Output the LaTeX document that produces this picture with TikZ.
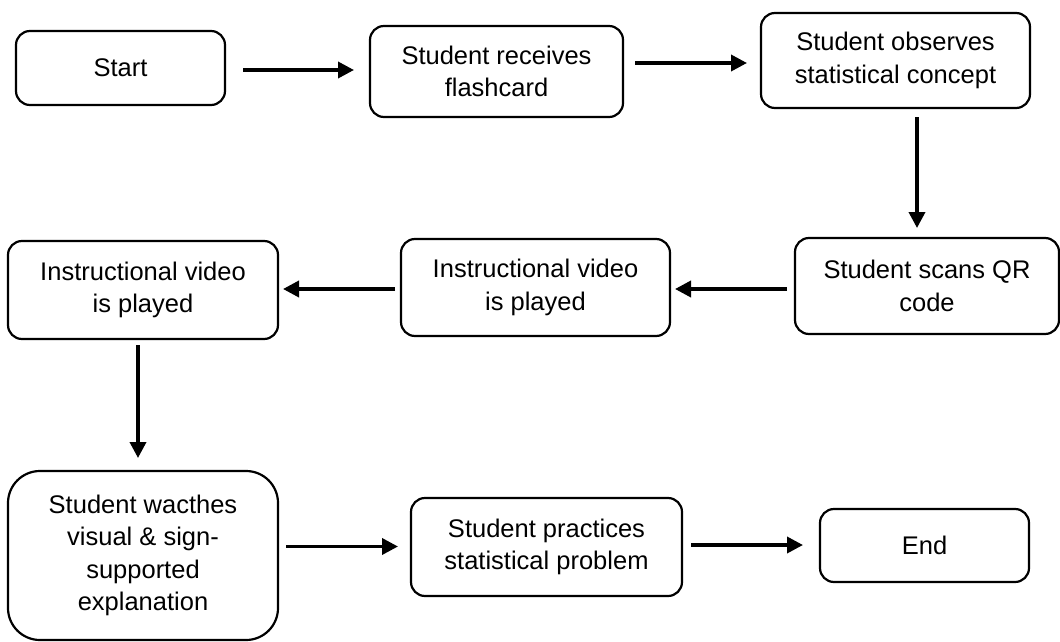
\documentclass[tikz,border=0pt]{standalone}
\usepackage{fontspec}
\setmainfont{Liberation Sans}
\usetikzlibrary{arrows.meta,calc}
\tikzset{
  box/.style={draw=black, line width=2.2pt, rounded corners=14pt, inner sep=0pt, outer sep=0pt,
    align=center, font=\fontsize{25.5}{32.5}\selectfont},
  arr/.style={line width=3.6pt, -{Triangle[length=16pt,width=16pt]}},
}
\begin{document}
\begin{tikzpicture}[x=1pt,y=-1pt]
\useasboundingbox (0,0) rectangle (1060,642);
\node[box, minimum width=209pt, minimum height=74pt] (start) at (120.5,68) {Start};
\node[box, minimum width=253pt, minimum height=91pt] (rec) at (496.5,71.5) {Student receives\\flashcard};
\node[box, minimum width=269pt, minimum height=95pt] (obs) at (895.5,60.5) {Student observes\\statistical concept};
\node[box, minimum width=264pt, minimum height=96pt] (scans) at (927,286) {Student scans QR\\code};
\node[box, minimum width=269pt, minimum height=97pt] (mid) at (535.5,287.5) {Instructional video\\is played};
\node[box, minimum width=270pt, minimum height=98pt] (left) at (143,290) {Instructional video\\is played};
\node[box, rounded corners=32pt, minimum width=270pt, minimum height=169pt] (watch) at (143,555.5) {Student wacthes\\visual \& sign-\\supported\\explanation};
\node[box, minimum width=271pt, minimum height=98pt] (prac) at (546.5,547) {Student practices\\statistical problem};
\node[box, minimum width=209pt, minimum height=73pt] (end) at (924.5,545.5) {End};

\draw[arr] ($(start.east)+(18,2)$) -- ($(start.east -| rec.west)+(-16,2)$);
\draw[arr] ($(rec.east)+(12,-8.5)$) -- ($(rec.east -| obs.west)+(-14,-8.5)$);
\draw[arr] ($(obs.south)+(21.5,9)$) -- ($(obs.south |- scans.north)+(21.5,-10)$);
\draw[arr] ($(scans.west)+(-8,3)$) -- ($(scans.west -| mid.east)+(5,3)$);
\draw[arr] ($(mid.west)+(-6,1.5)$) -- ($(mid.west -| left.east)+(5,1.5)$);
\draw[arr] ($(left.south)+(-5,6)$) -- ($(left.south |- watch.north)+(-5,-13)$);
\draw[arr] ($(watch.east)+(8,-9)$) -- ($(watch.east -| prac.west)+(-13,-9)$);
\draw[arr] ($(prac.east)+(9,-2)$) -- ($(prac.east -| end.west)+(-17,-2)$);
\end{tikzpicture}
\end{document}
